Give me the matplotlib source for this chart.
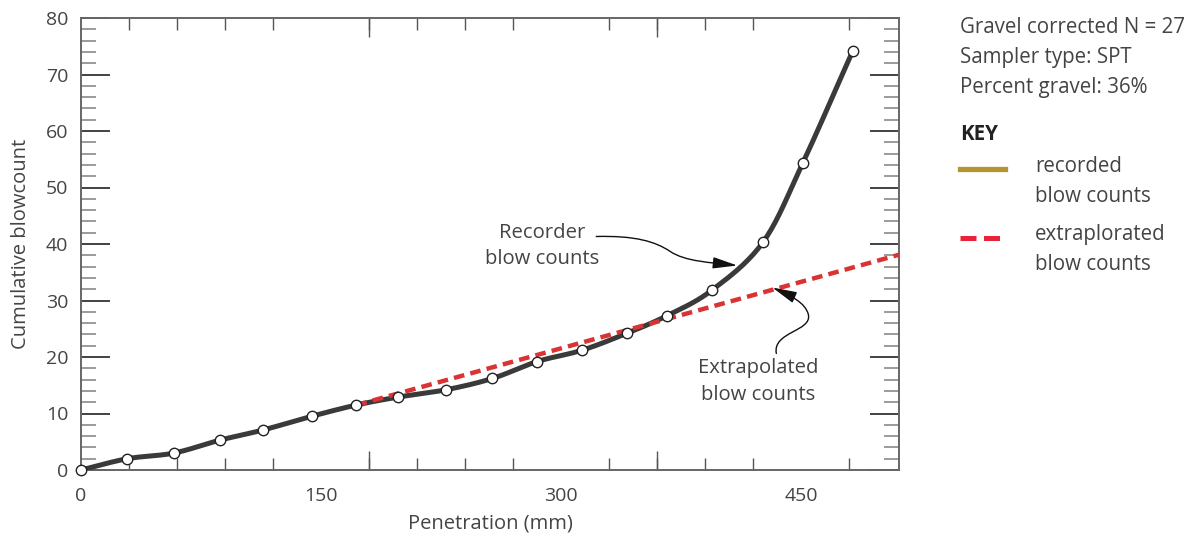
import numpy as np
import matplotlib
matplotlib.use("Agg")
import matplotlib.pyplot as plt
from matplotlib.lines import Line2D
from matplotlib.patches import FancyArrowPatch
from matplotlib.path import Path

# ---- data ----
penetration_mm = [0, 29, 58, 87, 114, 144, 172, 198, 228, 257, 285, 313, 341, 366, 394, 426, 451, 482]
cumulative_blows = [0, 2.0, 3.0, 5.3, 7.1, 9.5, 11.5, 12.9, 14.2, 16.2, 19.2, 21.2, 24.2, 27.3, 31.8, 40.3, 54.4, 74.1]
extrap_x = [172, 511]
extrap_y = [11.5, 38.1]
x_ticklabels = [0, 150, 300, 450]
y_ticklabels = [0, 10, 20, 30, 40, 50, 60, 70, 80]
info_lines = ["Gravel corrected N = 27", "Sampler type: SPT", "Percent gravel: 36%"]
key_labels = [["recorded", "blow counts"], ["extraplorated", "blow counts"]]

FONT = ["Open Sans", "DejaVu Sans"]
plt.rcParams['font.family'] = FONT
TXT = "#444444"
LINE = "#3a3a3a"
RED = "#d93333"

W, H = 1195, 536
fig = plt.figure(figsize=(W / 100, H / 100), dpi=100)
ax = fig.add_axes([81 / W, 1 - 470 / H, (899 - 81) / W, (470 - 18) / H])
ax.set_xlim(0, 511)
ax.set_ylim(0, 80)


def smooth(xs, ys, n=20):
    xs = np.asarray(xs, float); ys = np.asarray(ys, float)
    px = np.concatenate([[2 * xs[0] - xs[1]], xs, [2 * xs[-1] - xs[-2]]])
    py = np.concatenate([[2 * ys[0] - ys[1]], ys, [2 * ys[-1] - ys[-2]]])
    ox, oy = [], []
    t = np.linspace(0, 1, n, endpoint=False)
    for i in range(1, len(px) - 2):
        for arr, out in ((px, ox), (py, oy)):
            p0, p1, p2, p3 = arr[i - 1], arr[i], arr[i + 1], arr[i + 2]
            out.extend(0.5 * ((2 * p1) + (-p0 + p2) * t + (2 * p0 - 5 * p1 + 4 * p2 - p3) * t ** 2
                              + (-p0 + 3 * p1 - 3 * p2 + p3) * t ** 3))
    ox.append(xs[-1]); oy.append(ys[-1])
    return ox, oy


sx, sy = smooth(penetration_mm, cumulative_blows)
ax.plot(sx, sy, color=LINE, lw=3.6, solid_capstyle='round', zorder=3)
ax.plot(extrap_x, extrap_y, color=RED, lw=3.2, dashes=(2.4, 1.4), zorder=4)
ax.plot(penetration_mm, cumulative_blows, ls='none', marker='o', ms=7.5, mfc='white',
        mec='#222222', mew=1.0, zorder=5, clip_on=False)

# ---- axes styling ----
for s in ax.spines.values():
    s.set_color('#666666'); s.set_linewidth(1.4)

ax.set_xticks(x_ticklabels)
ax.set_xticklabels([str(v) for v in x_ticklabels])
ax.set_xticks(np.arange(30, 500, 30), minor=True)
ax.tick_params(axis='x', which='major', length=0, pad=12, labelsize=14, labelcolor=TXT)
ax.tick_params(axis='x', which='minor', direction='in', length=8.5, width=1.0, color='#555555',
               top=True, bottom=True)
ax.set_yticks(y_ticklabels)
ax.set_yticklabels([str(v) for v in y_ticklabels])
ax.set_yticks(np.arange(2, 80, 2), minor=True)
ax.tick_params(axis='y', which='major', direction='in', length=21, width=1.2, color='#222222',
               left=True, right=True, pad=9, labelsize=14, labelcolor=TXT)
ax.tick_params(axis='y', which='minor', direction='in', length=11, width=1.2, color='#8a8a8a',
               left=True, right=True)
# longer x ticks
for loc in ('bottom', 'top'):
    sec = ax.secondary_xaxis(loc)
    sec.set_xticks([180, 360])
    sec.tick_params(direction='in', length=13.5, width=1.0, color='#555555',
                    labelbottom=False, labeltop=False)
    for sp in sec.spines.values():
        sp.set_visible(False)

ax.set_xlabel("Penetration (mm)", fontsize=14.5, color=TXT, labelpad=6)
ax.set_ylabel("Cumulative blowcount", fontsize=14.5, color=TXT, labelpad=11)

# ---- annotations ----
def d(px, py):
    return ((px - 81) / 1.6, (470.5 - py) / 5.65)

for txt, (cx, by) in ((["Recorder", "blow counts"], (542, 238)),
                      (["Extrapolated", "blow counts"], (758, 374))):
    for i, ln in enumerate(txt):
        ax.text(*d(cx, by + 26 * i), ln, ha='center', va='baseline', fontsize=14.6, color=TXT)

arrow_paths = [
    [d(596, 237), d(635, 236), d(655, 242), d(670, 252), d(685, 262), d(710, 263), d(737, 266)],
    [d(776, 354), d(772, 332), d(812, 332), d(808, 315), d(805, 303), d(790, 296), d(772, 288)],
]
for pts in arrow_paths:
    path = Path(pts, [Path.MOVETO] + [Path.CURVE4] * 6)
    arr = FancyArrowPatch(path=path, arrowstyle='-|>,head_length=15,head_width=3.5',
                          color='#111111', lw=1.0, transform=ax.transData, zorder=6)
    ax.add_patch(arr)

# ---- info text & key ----
def f(px, py):
    return (px / W, 1 - py / H)

for i, line in enumerate(info_lines):
    fig.text(*f(960, 33 + 30 * i), line, fontsize=14.8, color=TXT, va='baseline')
fig.text(*f(960, 140), "KEY", fontsize=14.8, fontweight='bold', color='#222222', va='baseline')

fig.add_artist(Line2D([960 / W, 1005 / W], [1 - 169 / H] * 2, color='#b5952f', lw=3.8))
fig.add_artist(Line2D([960 / W, 1005 / W], [1 - 238 / H] * 2, color='#e8233a', lw=3.6,
                      dashes=(3.2, 1.5)))
for (l1, l2), by in zip(key_labels, (172, 240)):
    fig.text(*f(1035, by), l1, fontsize=14.8, color=TXT, va='baseline')
    fig.text(*f(1035, by + 30), l2, fontsize=14.8, color=TXT, va='baseline')

fig.savefig("out.png", dpi=100)
